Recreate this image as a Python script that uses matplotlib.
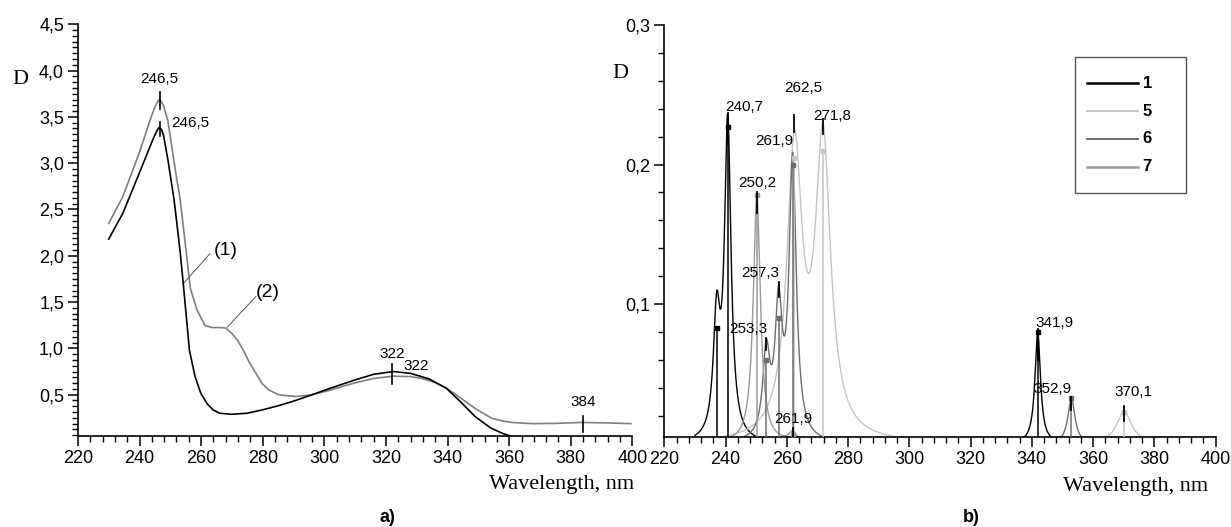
import numpy as np
import matplotlib
matplotlib.use("Agg")
import matplotlib.pyplot as plt
from matplotlib.ticker import MultipleLocator, FuncFormatter
from matplotlib.patches import Rectangle
from matplotlib.lines import Line2D

plt.rcParams['font.family'] = ['Liberation Sans', 'DejaVu Sans']

# ---------------- data: panel a ----------------
a_wl1 = [230.0, 234.6, 239.9, 243.9, 244.8, 245.8, 246.5, 247.2, 247.8, 249.2, 251.2, 252.2,
         253.2, 254.2, 256.2, 258.0, 259.9, 262.0, 263.9, 266.0, 269.9, 275.0, 279.8, 285.0,
         290.0, 295.8, 302.0, 310.0, 316.0, 322.4, 328.0, 334.0, 339.6, 344.0, 349.0, 354.0,
         358.0, 360.3]
a_D1 = [2.18, 2.46, 2.89, 3.22, 3.29, 3.36, 3.39, 3.36, 3.30, 3.04, 2.61, 2.33,
        2.04, 1.70, 0.98, 0.70, 0.515, 0.40, 0.335, 0.30, 0.288, 0.30, 0.335, 0.38,
        0.43, 0.497, 0.57, 0.66, 0.72, 0.75, 0.73, 0.67, 0.57, 0.43, 0.262, 0.14,
        0.08, 0.056]

a_wl2 = [230.0, 234.6, 239.9, 243.9, 245.3, 246.0, 246.5, 247.0, 247.7, 249.2, 250.6, 252.0,
         253.2, 255.2, 256.5, 258.6, 261.2, 263.5, 266.0, 268.0, 270.0, 271.8, 274.0, 275.8,
         278.0, 279.8, 282.0, 285.1, 290.5, 295.8, 302.0, 309.1, 316.0, 322.4, 328.0, 331.7,
         336.0, 339.6, 344.0, 349.0, 354.3, 358.0, 361.0, 367.6, 375.0, 383.5, 392.0, 399.5]
a_D2 = [2.35, 2.64, 3.11, 3.51, 3.63, 3.67, 3.69, 3.67, 3.63, 3.46, 3.15, 2.85,
        2.61, 2.03, 1.65, 1.42, 1.25, 1.225, 1.225, 1.22, 1.16, 1.09, 0.96, 0.84,
        0.72, 0.62, 0.55, 0.50, 0.48, 0.497, 0.55, 0.62, 0.675, 0.70, 0.695, 0.675,
        0.63, 0.57, 0.47, 0.35, 0.245, 0.215, 0.20, 0.187, 0.19, 0.20, 0.195, 0.187]

a_peak_wl = [246.5, 246.5, 322.0, 384.0]
a_peak_lo = [3.58, 3.29, 0.62, 0.10]
a_peak_hi = [3.77, 3.45, 0.83, 0.27]
a_labels = ['246,5', '246,5', '322', '322', '384']
a_label_x = [246.3, 250.3, 322.0, 325.7, 383.9]
a_label_y = [3.91, 3.43, 0.94, 0.81, 0.42]

# ---------------- data: panel b (transitions: position, height, half-width) ----------------
b_names = ['1', '5', '6', '7']
b_colors = ['#000000', '#c4c4c4', '#6e6e6e', '#9a9a9a']
b_pos = [[237.1, 240.7, 341.9],
         [262.5, 271.8, 370.1],
         [253.3, 257.3, 261.9, 352.9],
         [250.2, 261.9]]
b_h = [[0.083, 0.227, 0.080],
       [0.205, 0.210, 0.0228],
       [0.060, 0.090, 0.1997, 0.0324],
       [0.178, 0.007]]
b_w = [[1.3, 1.3, 1.1],
       [3.0, 3.0, 2.9],
       [1.4, 1.4, 1.4, 1.4],
       [1.4, 1.4]]

b_mark_wl = [240.7, 250.2, 253.3, 257.3, 262.5, 271.8, 261.9, 341.9, 352.9, 370.1]
b_mark_lo = [0.215, 0.165, 0.067, 0.105, 0.2235, 0.222, 0.005, 0.060, 0.024, 0.0164]
b_mark_hi = [0.237, 0.180, 0.0756, 0.116, 0.2355, 0.233, 0.011, 0.082, 0.0335, 0.027]
b_labels = ['240,7', '262,5', '271,8', '261,9', '250,2', '257,3', '253,3', '261,9',
            '341,9', '352,9', '370,1']
b_label_x = [246.2, 265.5, 274.7, 256.0, 250.5, 251.2, 247.4, 262.1, 347.3, 346.7, 373.0]
b_label_y = [0.2414, 0.2546, 0.235, 0.217, 0.1865, 0.1225, 0.0821, 0.018, 0.0862, 0.0389, 0.0371]

# ---------------- figure ----------------
W, H = 1231, 527
fig = plt.figure(figsize=(W / 100, H / 100), dpi=100)


def px_rect(x0, y0, x1, y1):
    return [x0 / W, 1 - y1 / H, (x1 - x0) / W, (y1 - y0) / H]


comma = FuncFormatter(lambda v, p: ('%.1f' % v).replace('.', ','))
intfmt = FuncFormatter(lambda v, p: '%d' % round(v))


def style_axes(ax):
    for s in ['top', 'right']:
        ax.spines[s].set_visible(False)
    for s in ['left', 'bottom']:
        ax.spines[s].set_linewidth(1.2)
    ax.tick_params(which='major', direction='out', length=7, width=1.1, labelsize=13, pad=3)
    ax.tick_params(which='minor', direction='out', length=4, width=1.0)
    ax.xaxis.set_major_locator(MultipleLocator(20))
    ax.xaxis.set_minor_locator(MultipleLocator(4))
    ax.xaxis.set_major_formatter(intfmt)


# ---- panel a ----
axa = fig.add_axes(px_rect(77.9, 24.3, 632.4, 435.7))
axa.plot(a_wl1, a_D1, color='#000000', lw=1.2, zorder=3)
axa.plot(a_wl2, a_D2, color='#7f7f7f', lw=1.2, zorder=2)
axa.set_xlim(220, 400)
axa.set_ylim(0.057, 4.5)
style_axes(axa)
axa.yaxis.set_major_locator(MultipleLocator(0.5))
axa.yaxis.set_minor_locator(MultipleLocator(0.0625))
axa.yaxis.set_major_formatter(comma)
axa.set_yticks([0.5, 1.0, 1.5, 2.0, 2.5, 3.0, 3.5, 4.0, 4.5])
for wl, lo, hi in zip(a_peak_wl, a_peak_lo, a_peak_hi):
    axa.plot([wl, wl], [lo, hi], color='black', lw=1.2, zorder=4)
for i, (t, x, y) in enumerate(zip(a_labels, a_label_x, a_label_y)):
    ha = 'left' if i in (1, 3) else 'center'
    axa.text(x, y, t, ha=ha, va='center', fontsize=11)
axa.text(264.1, 2.06, '(1)', ha='left', va='center', fontsize=14)
axa.plot([262.8, 254.2], [2.02, 1.70], color='#555555', lw=0.7)
axa.text(277.8, 1.60, '(2)', ha='left', va='center', fontsize=14)
axa.plot([277.8, 268.5], [1.56, 1.23], color='#555555', lw=0.7)
fig.text(20.5 / W, 1 - 79 / H, 'D', family='Liberation Serif', fontsize=16, ha='center', va='center')
fig.text(634 / W, 1 - 484.3 / H, 'Wavelength, nm', family='Liberation Serif', fontsize=16,
         ha='right', va='center')
fig.text(387 / W, 1 - 518 / H, 'a)', fontsize=13, fontweight='bold', ha='center', va='center')

# ---- panel b ----
axb = fig.add_axes(px_rect(664.3, 25.0, 1215.7, 436.7))
grid = np.linspace(230, 400, 6801)
for name, col, pos, hs, ws in zip(b_names, b_colors, b_pos, b_h, b_w):
    spec = np.zeros_like(grid)
    for p, h, w in zip(pos, hs, ws):
        spec += h / (1 + ((grid - p) / w) ** 2)
    axb.plot(grid, spec, color=col, lw=1.0, zorder=2)
    for p, h in zip(pos, hs):
        axb.plot([p, p], [0, h], color=col, lw=1.1, zorder=3)
        axb.plot([p], [h], marker='s', ms=2.5, color=col, mec=col, zorder=3)
axb.set_xlim(220, 400)
axb.set_ylim(0.005, 0.3)
style_axes(axb)
axb.yaxis.set_major_locator(MultipleLocator(0.1))
axb.yaxis.set_minor_locator(MultipleLocator(0.02))
axb.yaxis.set_major_formatter(comma)
axb.set_yticks([0.1, 0.2, 0.3])
for wl, lo, hi in zip(b_mark_wl, b_mark_lo, b_mark_hi):
    axb.plot([wl, wl], [lo, hi], color='black', lw=1.3, zorder=5)
for t, x, y in zip(b_labels, b_label_x, b_label_y):
    axb.text(x, y, t, ha='center', va='center', fontsize=11, zorder=6)
fig.text(620 / W, 1 - 73.3 / H, 'D', family='Liberation Serif', fontsize=16, ha='center', va='center')
fig.text(1208.4 / W, 1 - 486 / H, 'Wavelength, nm', family='Liberation Serif', fontsize=16,
         ha='right', va='center')
fig.text(971.5 / W, 1 - 517 / H, 'b)', fontsize=13, fontweight='bold', ha='center', va='center')

# legend (manual, in pixel coordinates)
fig.patches.append(Rectangle((1074.5 / W, 1 - 192.7 / H), (1185.5 - 1074.5) / W, (192.7 - 56.7) / H,
                             transform=fig.transFigure, fill=False, edgecolor='#555555', lw=1.0))
leg_rows = [83.3, 111.0, 139.0, 166.7]
leg_lw = [1.8, 1.4, 1.4, 1.8]
for name, col, yr, lw in zip(b_names, b_colors, leg_rows, leg_lw):
    fig.lines.append(Line2D([1087.3 / W, 1137.7 / W], [1 - yr / H, 1 - yr / H],
                            transform=fig.transFigure, color=col, lw=lw))
    fig.text(1142.7 / W, 1 - yr / H, name, fontsize=12, fontweight='bold', ha='left', va='center')

fig.savefig('out.png', dpi=100)
